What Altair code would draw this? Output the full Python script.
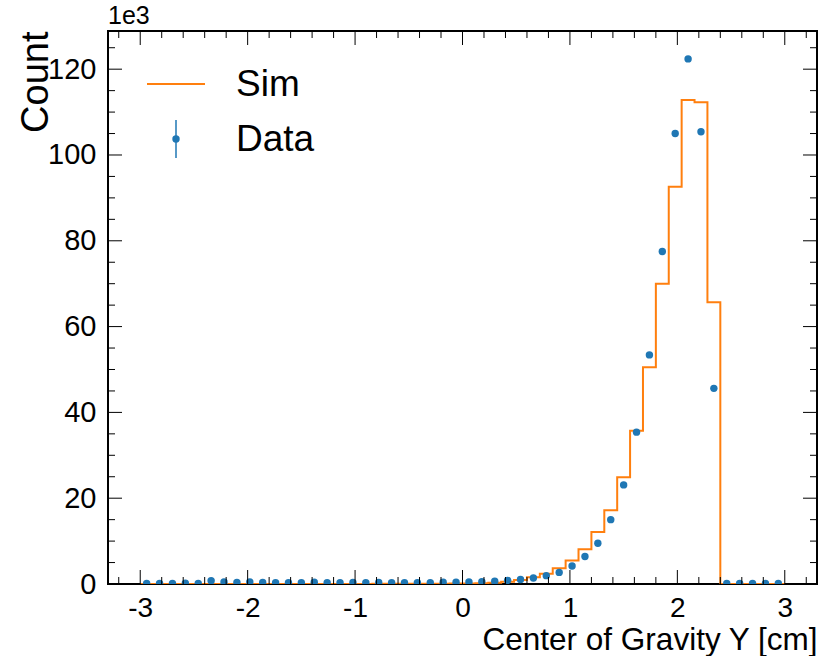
import altair as alt
import pandas as pd

# ---- data (values in units of 1e3 counts) ----
bin_left = [-3.00, -2.88, -2.76, -2.64, -2.52, -2.40, -2.28, -2.16, -2.04, -1.92,
            -1.80, -1.68, -1.56, -1.44, -1.32, -1.20, -1.08, -0.96, -0.84, -0.72,
            -0.60, -0.48, -0.36, -0.24, -0.12, 0.00, 0.12, 0.24, 0.36, 0.48,
            0.60, 0.72, 0.84, 0.96, 1.08, 1.20, 1.32, 1.44, 1.56, 1.68,
            1.80, 1.92, 2.04, 2.16, 2.28, 2.40, 2.52, 2.64, 2.76, 2.88]
bin_right_end = 3.00
bin_center = [-2.94, -2.82, -2.70, -2.58, -2.46, -2.34, -2.22, -2.10, -1.98, -1.86,
              -1.74, -1.62, -1.50, -1.38, -1.26, -1.14, -1.02, -0.90, -0.78, -0.66,
              -0.54, -0.42, -0.30, -0.18, -0.06, 0.06, 0.18, 0.30, 0.42, 0.54,
              0.66, 0.78, 0.90, 1.02, 1.14, 1.26, 1.38, 1.50, 1.62, 1.74,
              1.86, 1.98, 2.10, 2.22, 2.34, 2.46, 2.58, 2.70, 2.82, 2.94]
sim_counts = [0, 0, 0, 0, 0, 0, 0, 0, 0, 0,
              0.01, 0.01, 0.01, 0.01, 0.01, 0.02, 0.02, 0.02, 0.03, 0.03,
              0.04, 0.05, 0.06, 0.08, 0.10, 0.13, 0.20, 0.30, 0.50, 0.95,
              1.6, 2.4, 3.7, 5.5, 8.1, 12.1, 17.2, 24.9, 35.7, 50.5,
              70.0, 92.6, 112.8, 112.3, 65.7, 0, 0, 0, 0, 0]
data_counts = [0.15, 0.15, 0.15, 0.2, 0.15, 0.75, 0.45, 0.35, 0.5, 0.35,
               0.3, 0.3, 0.3, 0.4, 0.3, 0.3, 0.35, 0.3, 0.35, 0.3,
               0.3, 0.3, 0.3, 0.4, 0.4, 0.45, 0.55, 0.65, 0.85, 1.05,
               1.4, 1.95, 2.7, 4.2, 6.4, 9.5, 15.0, 23.1, 35.4, 53.4,
               77.5, 105.0, 122.4, 105.4, 45.6, 0.1, 0.15, 0.1, 0.15, 0.1]

x_major = [-3, -2, -1, 0, 1, 2, 3]
x_minor = [-3.2, -2.8, -2.6, -2.4, -2.2, -1.8, -1.6, -1.4, -1.2, -0.8, -0.6, -0.4, -0.2,
           0.2, 0.4, 0.6, 0.8, 1.2, 1.4, 1.6, 1.8, 2.2, 2.4, 2.6, 2.8, 3.2]
y_major = [0, 20, 40, 60, 80, 100, 120]
y_minor = [5, 10, 15, 25, 30, 35, 45, 50, 55, 65, 70, 75, 85, 90, 95, 105, 110, 115, 125]

W, H = 709, 553
FONT = "Liberation Sans"
BLUE = "#1f77b4"
ORANGE = "#ff7f0e"

xs = alt.Scale(domain=[-3.3, 3.3], nice=False, zero=False)
ys = alt.Scale(domain=[0, 128.9], nice=False, zero=False)

x_axis = alt.Axis(values=x_major, labelExpr="'' + datum.value", ticks=False, domain=False,
                  grid=False, labelFontSize=28, labelFont=FONT, labelColor="black",
                  labelPadding=10, title="Center of Gravity Y [cm]", titleFont=FONT,
                  titleFontSize=31.5, titleFontWeight="normal", titleColor="black",
                  titleX=W, titleY=65, titleAlign="right", titleBaseline="alphabetic",
                  titleAnchor="end")
y_axis = alt.Axis(values=y_major, labelExpr="'' + datum.value", ticks=False, domain=False,
                  grid=False, labelFontSize=29, labelFont=FONT, labelColor="black",
                  labelPadding=12, title="Count", titleFont=FONT, titleFontSize=38,
                  titleFontWeight="normal", titleColor="black", titleX=-61, titleY=0,
                  titleAlign="right", titleAngle=270, titleBaseline="alphabetic",
                  titleAnchor="end")

sim_df = pd.DataFrame({"x": bin_left + [bin_right_end], "y": sim_counts + [sim_counts[-1]]})
data_df = pd.DataFrame({"x": bin_center, "y": data_counts})

sim = alt.Chart(sim_df).mark_line(interpolate="step-after", color=ORANGE, strokeWidth=2,
                                  clip=True).encode(
    x=alt.X("x:Q", scale=xs, axis=x_axis),
    y=alt.Y("y:Q", scale=ys, axis=y_axis),
)
pts = alt.Chart(data_df).mark_circle(color=BLUE, size=55, opacity=1, clip=True).encode(
    x=alt.X("x:Q", scale=xs, axis=x_axis),
    y=alt.Y("y:Q", scale=ys, axis=y_axis),
)

def xticks(vals, length, top):
    df = pd.DataFrame({"v": vals})
    y0, y1 = (0, length) if top else (H, H - length)
    return alt.Chart(df).mark_rule(color="black", strokeWidth=1).encode(
        x=alt.X("v:Q", scale=xs, axis=x_axis), y=alt.value(y0), y2=alt.value(y1))

def yticks(vals, length, right):
    df = pd.DataFrame({"v": vals})
    x0, x1 = (W, W - length) if right else (0, length)
    return alt.Chart(df).mark_rule(color="black", strokeWidth=1).encode(
        y=alt.Y("v:Q", scale=ys, axis=y_axis), x=alt.value(x0), x2=alt.value(x1))

tick_layers = [xticks(x_major, 14, False), xticks(x_minor, 7, False),
               xticks(x_major, 14, True), xticks(x_minor, 7, True),
               yticks(y_major, 14, False), yticks(y_minor, 7, False),
               yticks(y_major, 14, True), yticks(y_minor, 7, True)]

one = pd.DataFrame({"k": [0]})
leg_sim_line = alt.Chart(one).mark_rule(color=ORANGE, strokeWidth=2).encode(
    x=alt.value(39), x2=alt.value(97), y=alt.value(53))
leg_sim_text = alt.Chart(one).mark_text(text="Sim", font=FONT, fontSize=37, align="left",
                                        baseline="middle", color="black").encode(
    x=alt.value(128), y=alt.value(54))
leg_data_bar = alt.Chart(one).mark_rule(color=BLUE, strokeWidth=1.5).encode(
    x=alt.value(68), y=alt.value(89), y2=alt.value(127))
leg_data_pt = alt.Chart(one).mark_circle(color=BLUE, size=55, opacity=1).encode(
    x=alt.value(68), y=alt.value(108))
leg_data_text = alt.Chart(one).mark_text(text="Data", font=FONT, fontSize=37, align="left",
                                         baseline="middle", color="black").encode(
    x=alt.value(128), y=alt.value(109))
exp_text = alt.Chart(one).mark_text(text="1e3", font=FONT, fontSize=25, align="left",
                                    baseline="alphabetic", color="black").encode(
    x=alt.value(0), y=alt.value(-7))

chart = alt.layer(
    sim, pts, *tick_layers, leg_sim_line, leg_sim_text, leg_data_bar, leg_data_pt,
    leg_data_text, exp_text
).properties(
    width=W, height=H,
    autosize=alt.AutoSizeParams(type="none"),
    padding={"left": 108, "top": 31, "right": 1, "bottom": 72},
    background="white",
).configure_view(stroke="black", strokeWidth=2)

chart.save("out.html", embed_options={"renderer": "svg", "actions": False})
